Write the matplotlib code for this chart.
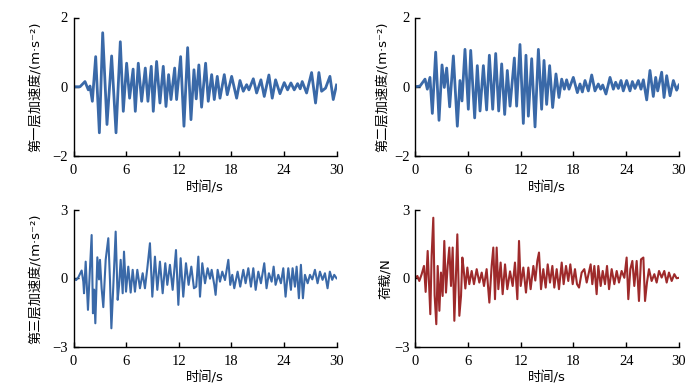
import matplotlib
matplotlib.use("Agg")
import matplotlib.pyplot as plt

# floor 1 acceleration (m/s^2), peaks and troughs
t1 = [0, 0.74, 1.31, 1.69, 1.88, 2.15, 2.53, 2.95, 3.33, 3.82, 4.35, 4.85, 5.34, 5.68,
      6.06, 6.40, 6.80, 7.05, 7.39, 7.77, 8.19, 8.49, 8.87, 9.10, 9.48, 9.86, 10.24,
      10.55, 10.85, 11.12, 11.54, 11.76, 12.22, 12.60, 13.02, 13.40, 13.74, 14.00,
      14.30, 14.61, 15.07, 15.37, 15.76, 16.06, 16.40, 16.71, 17.20, 17.54, 18.04,
      18.61, 18.99, 19.37, 19.75, 20.01, 20.51, 20.89, 21.38, 21.76, 22.29, 22.67,
      23.05, 23.55, 24.04, 24.42, 24.80, 25.18, 25.56, 25.86, 26.09, 26.59, 27.16,
      27.61, 27.99, 28.30, 28.75, 29.25, 29.63, 30.0]
a1 = [0, 0.0, 0.15, -0.09, 0.02, -0.42, 0.87, -1.33, 1.56, -1.09, 0.89, -1.33, 1.30, -0.71,
      0.68, -0.33, 0.51, -0.71, 0.68, -0.42, 0.54, -0.42, 0.59, -0.71, 0.73, -0.47, 0.59,
      -0.57, 0.35, -0.37, 0.54, -0.37, 0.87, -1.14, 1.13, -0.95, 0.49, -0.35,
      0.63, -0.59, 0.68, -0.42, 0.35, -0.37, 0.30, -0.33, 0.35, -0.23, 0.30,
      -0.33, 0.18, -0.13, 0.06, -0.09, 0.23, -0.18, 0.20, -0.28, 0.34, -0.33,
      0.20, -0.20, 0.12, -0.09, 0.11, -0.09, 0.09, -0.06, 0.15, -0.18, 0.41,
      -0.47, 0.41, -0.13, -0.04, 0.30, -0.37, 0.05]

# floor 2 acceleration (m/s^2)
t2 = [0, 0.57, 1.14, 1.40, 1.70, 1.97, 2.35, 2.73, 3.07, 3.33, 3.60, 3.94, 4.36, 4.81,
      5.11, 5.34, 5.68, 6.06, 6.33, 6.78, 7.08, 7.39, 7.77, 8.14, 8.45, 8.83, 9.17,
      9.51, 9.85, 10.19, 10.49, 10.80, 11.29, 11.55, 11.93, 12.31, 12.61, 12.88,
      13.26, 13.64, 14.02, 14.39, 14.66, 14.96, 15.30, 15.64, 16.02, 16.36, 16.67,
      16.97, 17.23, 17.50, 17.99, 18.45, 18.75, 19.02, 19.32, 19.70, 20.08, 20.45,
      20.83, 21.10, 21.33, 21.70, 22.16, 22.54, 22.80, 23.11, 23.41, 23.67, 24.05,
      24.43, 24.70, 25.00, 25.38, 25.68, 25.95, 26.33, 26.70, 27.08, 27.35, 27.58,
      28.03, 28.30, 28.60, 28.98, 29.36, 29.73, 30.0]
a2 = [0, 0.02, 0.22, -0.07, 0.27, -0.77, 1.00, -0.97, 0.63, -0.02, 0.54, -0.58, 0.89, -1.14,
      0.18, -0.41, 1.08, -0.65, 1.05, -0.90, 0.61, -0.70, 0.61, -0.67, 0.91, -0.65, 0.96,
      -0.70, 0.66, -0.80, 0.47, -0.56, 0.83, -0.56, 1.22, -1.06, 0.91, -0.85,
      0.81, -1.16, 1.08, -0.65, 0.76, -0.51, 0.61, -0.60, 0.37, -0.31, 0.22,
      -0.07, 0.20, -0.07, 0.27, -0.17, 0.08, -0.15, 0.18, -0.12, 0.34, -0.12,
      0.08, -0.07, 0.05, -0.21, 0.27, -0.07, 0.13, -0.05, 0.18, -0.12, 0.18,
      -0.12, 0.15, -0.05, 0.18, -0.07, 0.20, -0.38, 0.47, -0.28, 0.27, -0.12,
      0.42, -0.31, 0.32, -0.26, 0.18, -0.10, 0.05]

# floor 3 acceleration (m/s^2)
t3 = [0, 0.30, 0.55, 0.93, 1.12, 1.20, 1.39, 1.65, 1.85, 2.07, 2.22, 2.35, 2.49, 2.72,
      2.91, 3.02, 3.21, 3.40, 3.67, 3.97, 4.16, 4.32, 4.54, 4.81, 5.04, 5.20, 5.38,
      5.61, 5.76, 5.99, 6.25, 6.52, 6.75, 7.01, 7.28, 7.58, 7.89, 8.15, 8.42, 8.72,
      8.99, 9.29, 9.56, 9.86, 10.17, 10.47, 10.70, 11.00, 11.31, 11.69, 11.96, 12.22,
      12.52, 12.83, 13.13, 13.44, 13.74, 14.00, 14.24, 14.43, 14.69, 15.00, 15.30,
      15.57, 15.76, 16.06, 16.21, 16.44, 16.71, 16.97, 17.28, 17.66, 17.88, 18.11,
      18.34, 18.72, 19.02, 19.37, 19.63, 19.94, 20.24, 20.51, 20.78, 21.08, 21.38,
      21.76, 22.02, 22.29, 22.60, 22.83, 23.05, 23.36, 23.66, 23.93, 24.19, 24.50,
      24.80, 24.99, 25.26, 25.45, 25.71, 25.94, 26.17, 26.40, 26.71, 26.97, 27.24,
      27.54, 27.84, 28.11, 28.41, 28.68, 28.98, 29.24, 29.51, 29.74, 30.0]
a3 = [0, -0.08, 0.04, 0.34, -0.15, -0.66, 0.73, -1.39, 0.20, 1.90, -1.54, -0.50, -1.98, 0.92,
      -0.05, 0.81, -0.45, -1.27, 0.81, 1.76, -0.07, -2.20, -0.35, 2.05, -0.95, -0.30, 0.81,
      -0.66, 1.17, -0.59, 0.51, -0.63, 0.37, -0.59, 0.37, -0.44, 0.22, -0.44, 0.44, 1.54,
      -0.81, 0.95, -0.51, 0.73, -0.66, 0.66, -0.29, 0.59, -0.51, 1.24, -1.17, 0.88,
      -0.81, 0.66, -0.29, 0.51, -0.44, -0.37, 0.95, -0.81, 0.66, -0.22, 0.44,
      -0.02, 0.37, -0.29, -0.73, 0.37, -0.15, 0.29, -0.08, 0.81, -0.29, 0.15,
      -0.44, 0.29, -0.37, 0.37, -0.22, 0.44, -0.37, 0.44, -0.51, 0.29, -0.22,
      0.66, -0.44, 0.22, -0.15, 0.51, -0.29, 0.15, -0.22, 0.44, -0.81, 0.44,
      -0.51, 0.44, -0.37, 0.51, -0.88, 0.59, -0.88, 0.15, -0.22, 0.15, -0.05,
      0.37, -0.22, 0.29, -0.07, 0.22, -0.44, 0.29, -0.07, 0.15, 0.0]

# load (N)
t4 = [0, 0.27, 0.49, 0.76, 1.02, 1.21, 1.44, 1.74, 1.89, 2.08, 2.23, 2.42, 2.58, 2.77,
      2.95, 3.14, 3.33, 3.52, 3.71, 3.90, 4.09, 4.28, 4.47, 4.66, 4.81, 5.04, 5.23,
      5.38, 5.53, 5.72, 5.95, 6.17, 6.44, 6.70, 7.01, 7.31, 7.58, 7.84, 8.14, 8.45,
      8.71, 8.90, 9.09, 9.28, 9.47, 9.73, 9.96, 10.23, 10.49, 10.80, 11.10, 11.36,
      11.63, 11.82, 12.01, 12.31, 12.61, 12.88, 13.14, 13.45, 13.67, 13.90, 14.09,
      14.32, 14.58, 14.85, 15.08, 15.34, 15.61, 15.83, 16.10, 16.36, 16.67, 16.89,
      17.16, 17.42, 17.65, 17.92, 18.18, 18.41, 18.64, 18.94, 19.24, 19.51, 19.70,
      19.96, 20.15, 20.38, 20.64, 20.83, 21.10, 21.33, 21.59, 21.82, 22.05, 22.35,
      22.65, 22.92, 23.18, 23.48, 23.79, 24.05, 24.24, 24.47, 24.70, 24.92, 25.19,
      25.45, 25.68, 25.95, 26.14, 26.36, 26.59, 26.89, 27.20, 27.46, 27.73, 28.03,
      28.33, 28.60, 28.86, 29.17, 29.47, 29.73, 30.0]
f4 = [0, 0.10, -0.12, 0.18, 0.54, -0.60, 1.20, -1.58, 0.98, 2.66, -0.75, -2.02, 0.54, -1.43,
      0.25, -0.78, 1.64, -0.63, 0.54, 1.35, -0.34, 1.35, -1.87, 0.20, 1.93, -1.65, -0.78,
      0.91, 0.40, -0.45, 0.47, -0.26, 0.32, -0.26, 0.40, -0.19, 0.25, -0.34, 0.40, -1.07,
      0.54, 1.35, -0.92, 1.35, -0.48, 0.69, -0.70, 0.61, -0.48, 0.30, -0.34, 0.69,
      -0.92, 1.64, -0.34, 0.47, -0.63, 0.47, -0.48, 0.54, -0.10, 0.76, 1.13,
      -0.48, 0.40, -0.41, 0.61, -0.19, 0.54, -0.41, 0.40, -0.48, 0.69, -0.26,
      0.54, -0.12, 0.61, -0.26, 0.40, -0.26, -0.41, 0.25, 0.40, -0.19, 0.15,
      0.61, -0.26, 0.54, -0.70, 0.54, -0.34, 0.32, -0.26, 0.54, -0.48, 0.40,
      -0.26, 0.32, -0.19, 0.32, 0.02, 0.91, -0.92, 0.40, 0.76, -0.34, 0.76,
      -1.00, 0.83, 0.91, -1.00, -0.19, 0.40, -0.12, 0.18, -0.19, 0.32, 0.03,
      0.32, -0.19, 0.25, -0.12, 0.18, 0.0, 0.02]

ylabels = ["第一层加速度/(m·s⁻²)", "第二层加速度/(m·s⁻²)", "第三层加速度/(m·s⁻²)", "荷载/N"]
xticks = [0, 6, 12, 18, 24, 30]

blue = "#3a69a8"
red = "#9e2a2b"
# latin part in DejaVu, Chinese falls through to the CJK font
lab_font = ["DejaVu Sans", "Noto Sans CJK SC"]

plt.rcParams["font.family"] = ["Liberation Serif", "DejaVu Serif"]
plt.rcParams["font.size"] = 10.5

fig = plt.figure(figsize=(7, 3.92), dpi=100)

boxes = [(73.5, 17.5, 336.5, 156.0), (415, 17.5, 679, 156.0),
         (73.5, 210, 336.5, 346.5), (415, 210, 679, 346.5)]
series = [(t1, a1, blue, 2), (t2, a2, blue, 2), (t3, a3, blue, 3), (t4, f4, red, 3)]
label_x = [42, 389, 42, 392]

for i, (box, (t, y, c, lim)) in enumerate(zip(boxes, series)):
    l, tp, r, b = box
    ax = fig.add_axes([l / 700, 1 - b / 392, (r - l) / 700, (b - tp) / 392])
    lw = 2.0 if lim == 2 else 1.5
    ax.plot(t, y, color=c, lw=lw, solid_joinstyle="round")
    ax.set_xlim(0, 30)
    ax.set_ylim(-lim, lim)
    ax.set_xticks(xticks)
    ax.set_yticks([-lim, 0, lim])
    for s in ["top", "right"]:
        ax.spines[s].set_visible(False)
    for s in ["left", "bottom"]:
        ax.spines[s].set_linewidth(1.0)
    ax.tick_params(direction="in", length=3.5, width=1.0, labelsize=10.5)
    ax.tick_params(axis="x", pad=6)
    ax.tick_params(axis="y", pad=4)
    ax.set_ylabel(ylabels[i], family=lab_font, fontsize=9.5)
    ax.yaxis.set_label_coords((label_x[i] - l) / (r - l), 0.5)
    ax.set_xlabel("时间/s", family=lab_font, fontsize=9.5)
    ax.xaxis.set_label_coords(0.5, -25 / (b - tp))

fig.savefig("out.png", dpi=100)
